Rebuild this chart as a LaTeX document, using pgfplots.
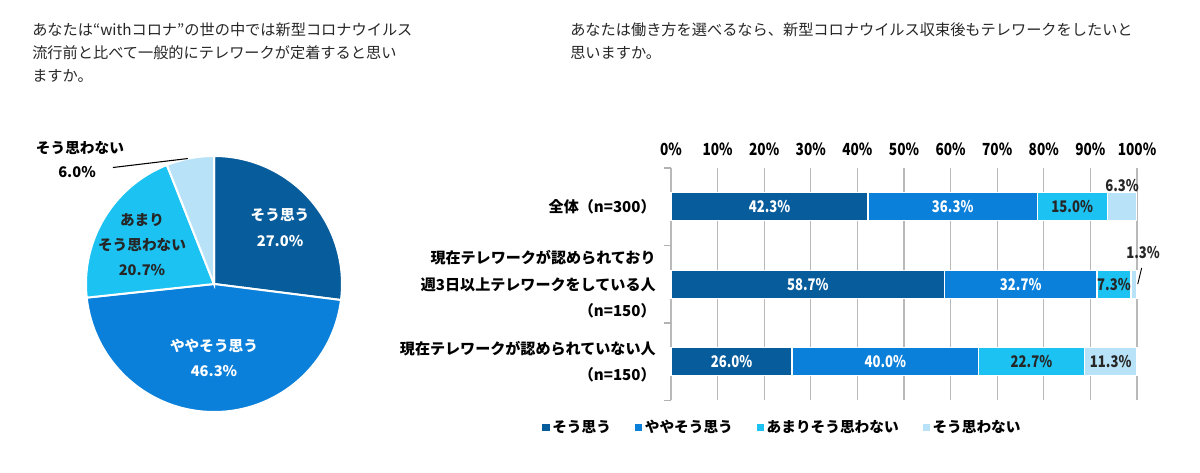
\documentclass[border=0pt]{standalone}
\usepackage{fontspec}
\setmainfont{Noto Sans CJK JP}
\newfontfamily\numfont{Noto Sans CJK JP}[FakeStretch=0.82]
\usepackage{pgfplots}
\usepackage{pgfplotstable}
\pgfplotsset{compat=1.18}
\definecolor{cA}{HTML}{075C9C}
\definecolor{cB}{HTML}{0A80DA}
\definecolor{cC}{HTML}{1BC2F2}
\definecolor{cD}{HTML}{B8E2F8}
\definecolor{titlegray}{HTML}{262626}
\pgfplotstableread{
row a b c d
0 42.3 36.3 15.0 6.3
1 58.7 32.7 7.3 1.3
2 26.0 40.0 22.7 11.3
}\bardata
\tikzset{numlab/.style={font=\numfont\fontsize{12}{14}\selectfont\bfseries},
  pielab/.style={font=\fontsize{11}{13}\selectfont\bfseries}}
\pgfplotsset{barframe/.style={at={(503.25pt,228.75pt)}, anchor=north west,
  scale only axis, width=349.5pt, height=174.375pt,
  xmin=0, xmax=100, ymin=-0.5, ymax=2.5, y dir=reverse, clip=false}}
\begin{document}
\begin{tikzpicture}[x=0.75pt,y=0.75pt]
\path[use as bounding box] (0,0) rectangle (1200,473);
% titles
\tikzset{ttl/.style={anchor=west,inner sep=0pt,font=\fontsize{11.4}{13}\selectfont,text=titlegray}}
\node[ttl] at (32,443) {あなたは“withコロナ”の世の中では新型コロナウイルス};
\node[ttl] at (32,420) {流行前と比べて一般的にテレワークが定着すると思い};
\node[ttl] at (32,397) {ますか。};
\node[ttl] at (570,443) {あなたは働き方を選べるなら、新型コロナウイルス収束後もテレワークをしたいと};
\node[ttl] at (570,420) {思いますか。};
% pie
\begin{axis}[
  at={(160.5pt,141.75pt)}, anchor=center,
  scale only axis, width=192pt, height=192pt,
  xmin=-1, xmax=1, ymin=-1, ymax=1,
  hide axis, clip=false,
]
\addplot[draw=none, forget plot] coordinates {(0,0)};
% slices: 27.0, 46.3, 20.7, 6.0 percent, clockwise from top
\fill[cA,draw=white,line width=1.5pt] (axis cs:0,0) -- ++(90:96pt) arc[start angle=90,end angle=-7.2,radius=96pt] -- cycle;
\fill[cB,draw=white,line width=1.5pt] (axis cs:0,0) -- ++(-7.2:96pt) arc[start angle=-7.2,end angle=-173.88,radius=96pt] -- cycle;
\fill[cC,draw=white,line width=1.5pt] (axis cs:0,0) -- ++(-173.88:96pt) arc[start angle=-173.88,end angle=-248.4,radius=96pt] -- cycle;
\fill[cD,draw=white,line width=1.5pt] (axis cs:0,0) -- ++(-248.4:96pt) arc[start angle=-248.4,end angle=-270,radius=96pt] -- cycle;
\node[pielab,text=white] at (axis cs:0.516,0.539) {そう思う};
\node[pielab,text=white] at (axis cs:0.516,0.336) {27.0\%};
\node[pielab,text=white] at (axis cs:0,-0.484) {ややそう思う};
\node[pielab,text=white] at (axis cs:0,-0.68) {46.3\%};
\node[pielab,text=black!85] at (axis cs:-0.5625,0.5) {あまり};
\node[pielab,text=black!85] at (axis cs:-0.5625,0.305) {そう思わない};
\node[pielab,text=black!85] at (axis cs:-0.5625,0.109) {20.7\%};
\node[pielab,text=black] at (axis cs:-1.047,1.0625) {そう思わない};
\node[pielab,text=black] at (axis cs:-1.07,0.875) {6.0\%};
\draw[black,line width=0.8pt] (axis cs:-0.79,0.91) -- (axis cs:-0.205,0.98);
\end{axis}
% bars
\begin{axis}[
  barframe,
  xbar stacked, bar width=21pt,
  axis line style={draw=none},
  xmajorgrids, grid style={gray!55, line width=0.8pt},
  xtick={0,10,...,100},
  xticklabels={0\%,10\%,20\%,30\%,40\%,50\%,60\%,70\%,80\%,90\%,100\%},
  xticklabel pos=upper,
  xticklabel style={font=\numfont\fontsize{12.5}{14}\selectfont\bfseries, yshift=6pt},
  ytick={0,1,2},
  yticklabels={{全体（n=300）},{現在テレワークが認められており\\週3日以上テレワークをしている人\\（n=150）},{現在テレワークが認められていない人\\（n=150）}},
  yticklabel style={align=right, font=\fontsize{11.3}{20}\selectfont\bfseries, xshift=-8pt},
  major tick length=0pt,
  legend columns=4,
  legend style={at={(0.24,-0.116)}, anchor=center, draw=none, font=\fontsize{11}{13}\selectfont\bfseries, /tikz/every even column/.append style={column sep=16pt}},
  legend image code/.code={\fill[#1,draw=none] (0pt,-2.7pt) rectangle (5.4pt,2.7pt);},
]
\addplot[fill=cA, draw=white, line width=1pt] table[x=a,y=row] {\bardata};
\addplot[fill=cB, draw=white, line width=1pt] table[x=b,y=row] {\bardata};
\addplot[fill=cC, draw=white, line width=1pt] table[x=c,y=row] {\bardata};
\addplot[fill=cD, draw=white, line width=1pt] table[x=d,y=row] {\bardata};
\legend{そう思う,ややそう思う,あまりそう思わない,そう思わない}
\foreach \yy in {-0.5,0.5,1.5,2.5}{\edef\tmp{\noexpand\draw[gray!60, line width=0.8pt] (axis cs:0,\yy) -- ++(-5pt,0pt);}\tmp}
\end{axis}
% labels on top of the bars
\begin{axis}[barframe, hide axis]
\addplot[draw=none, forget plot] coordinates {(0,0)};
\node[numlab,text=white] at (axis cs:21.15,0) {42.3\%};
\node[numlab,text=white] at (axis cs:60.45,0) {36.3\%};
\node[numlab,text=black!85] at (axis cs:86.1,0) {15.0\%};
\node[numlab,text=black!85] at (axis cs:96.8,-0.27) {6.3\%};
\node[numlab,text=white] at (axis cs:29.35,1) {58.7\%};
\node[numlab,text=white] at (axis cs:75.05,1) {32.7\%};
\node[numlab,text=black!85] at (axis cs:95.05,1) {7.3\%};
\node[numlab,text=black!85] at (axis cs:101.3,0.59) {1.3\%};
\node[numlab,text=white] at (axis cs:13,2) {26.0\%};
\node[numlab,text=white] at (axis cs:46,2) {40.0\%};
\node[numlab,text=black!85] at (axis cs:77.35,2) {22.7\%};
\node[numlab,text=black!85] at (axis cs:94.35,2) {11.3\%};
\draw[black, line width=0.7pt] (axis cs:101.0,0.79) -- (axis cs:100.15,1.0);
\end{axis}
\end{tikzpicture}
\end{document}
